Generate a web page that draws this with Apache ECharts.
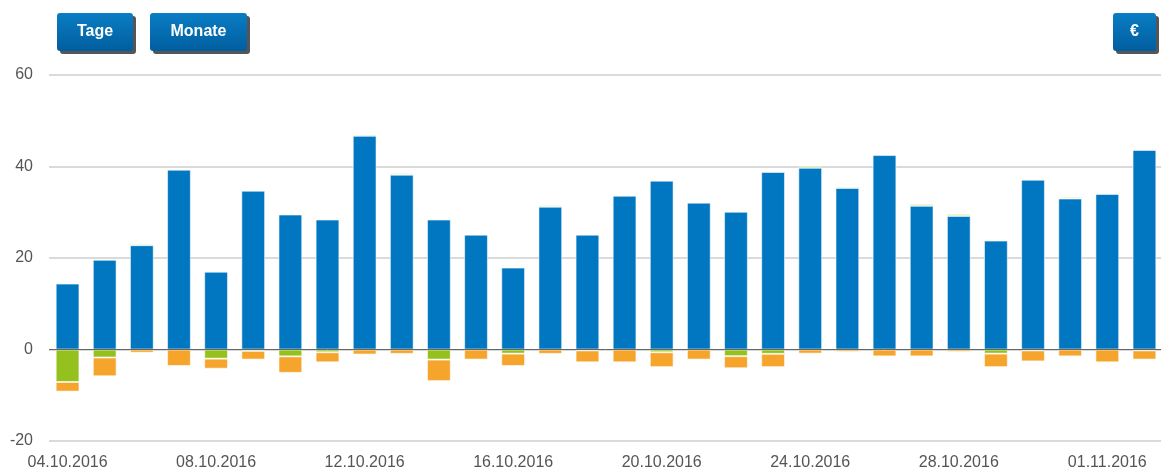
<!DOCTYPE html>
<html>
<head>
<meta charset="utf-8">
<script src="https://cdn.jsdelivr.net/npm/echarts@6/dist/echarts.min.js"></script>
<style>
  html, body { margin: 0; padding: 0; background: #fff; }
  #energy_bars { width: 1161px; height: 468px; }
</style>
</head>
<body>
<div id="energy_bars"></div>
<script>
// Days shown on the x axis
var days = [
    '04.10.2016', '05.10.2016', '06.10.2016', '07.10.2016', '08.10.2016', '09.10.2016',
    '10.10.2016', '11.10.2016', '12.10.2016', '13.10.2016', '14.10.2016', '15.10.2016',
    '16.10.2016', '17.10.2016', '18.10.2016', '19.10.2016', '20.10.2016', '21.10.2016',
    '22.10.2016', '23.10.2016', '24.10.2016', '25.10.2016', '26.10.2016', '27.10.2016',
    '28.10.2016', '29.10.2016', '30.10.2016', '31.10.2016', '01.11.2016', '02.11.2016'
];

// Positive part (blue) and the thin green cap on top
var blueValues = [14.4, 19.6, 22.8, 39.3, 17.0, 34.7, 29.5, 28.4, 46.7, 38.2, 28.4, 25.1, 17.9, 31.2, 25.1,
    33.6, 36.9, 32.1, 30.1, 38.8, 39.7, 35.3, 42.5, 31.4, 29.2, 23.8, 37.1, 33.0, 34.0, 43.6];
var greenTopValues = [null, null, 0.3, null, null, null, null, null, 0.3, 0.3, null, null, null, 0.3, null,
    null, null, null, null, null, 0.4, 0.3, null, 0.4, 0.4, null, null, 0.3, null, null];

// Negative parts: green next to zero, orange below
var greenNegValues = [-7.1, -1.75, null, null, -2.0, -0.3, -1.5, -0.6, null, null, -2.2, null, -0.9, null, -0.2,
    null, -0.6, null, -1.45, -0.95, null, null, null, null, null, -0.9, -0.2, null, null, -0.2];
var orangeValues = [-2.1, -4.1, -0.7, -3.6, -2.2, -1.9, -3.6, -2.2, -1.1, -0.95, -4.7, -2.2, -2.7, -0.95, -2.6,
    -2.8, -3.25, -2.2, -2.65, -2.9, -0.9, -0.5, -1.5, -1.5, -0.5, -2.95, -2.4, -1.5, -2.8, -2.0];

var yTicks = { min: -20, max: 60, step: 20 };

var chartEl = document.getElementById('energy_bars');
var chart = echarts.init(chartEl);

// Button drawn as shadow + gradient rect + label
function button(x, w, label) {
    return {
        type: 'group',
        x: x,
        y: 13,
        children: [
            { type: 'rect', shape: { x: 3, y: 3, width: w, height: 38, r: 3 }, style: { fill: '#555' } },
            {
                type: 'rect',
                shape: { x: 0, y: 0, width: w, height: 38, r: 3 },
                style: {
                    fill: new echarts.graphic.LinearGradient(0, 0, 0, 1, [
                        { offset: 0, color: '#0a7dc4' },
                        { offset: 1, color: '#005e9e' }
                    ])
                }
            },
            {
                type: 'text',
                style: {
                    x: w / 2, y: 19, text: label, fill: '#fff',
                    font: 'bold 16px "Liberation Sans", Arial, sans-serif',
                    align: 'center', verticalAlign: 'middle'
                }
            }
        ]
    };
}

var barBorder = { borderColor: 'rgba(255,255,255,0.55)', borderWidth: 1 };

chart.setOption({
    animation: false,
    textStyle: { fontFamily: '"Liberation Sans", Arial, sans-serif' },
    grid: { left: 49, right: -2, top: 75, bottom: 27, containLabel: false, outerBoundsMode: 'none' },
    xAxis: {
        type: 'category',
        data: days,
        axisLine: { show: false },
        axisTick: { show: false },
        axisLabel: { interval: 3, color: '#555', fontSize: 16, margin: 14 }
    },
    yAxis: {
        type: 'value',
        min: yTicks.min,
        max: yTicks.max,
        interval: yTicks.step,
        axisLine: { show: false },
        axisTick: { show: false },
        axisLabel: { color: '#555', fontSize: 16, margin: 16 },
        splitLine: { lineStyle: { color: '#dadada', width: 2 } }
    },
    series: [
        {
            name: 'blue', type: 'bar', stack: 'total', barWidth: '64%',
            data: blueValues,
            itemStyle: Object.assign({ color: '#0077c0' }, barBorder),
            markLine: {
                silent: true, symbol: 'none', label: { show: false },
                lineStyle: { color: '#666', width: 1, type: 'solid' },
                data: [{ yAxis: 0 }]
            }
        },
        {
            name: 'greenTop', type: 'bar', stack: 'total',
            data: greenTopValues,
            itemStyle: Object.assign({ color: '#95c11f' }, barBorder)
        },
        {
            name: 'greenNeg', type: 'bar', stack: 'total',
            data: greenNegValues,
            itemStyle: Object.assign({ color: '#95c11f' }, barBorder)
        },
        {
            name: 'orange', type: 'bar', stack: 'total',
            data: orangeValues,
            itemStyle: Object.assign({ color: '#f6a52c' }, barBorder)
        }
    ],
    graphic: [
        button(57, 76, 'Tage'),
        button(150, 97, 'Monate'),
        button(1113, 43, '€')
    ]
});

window.addEventListener('resize', function () {
    chart.resize();
});
</script>
</body>
</html>
